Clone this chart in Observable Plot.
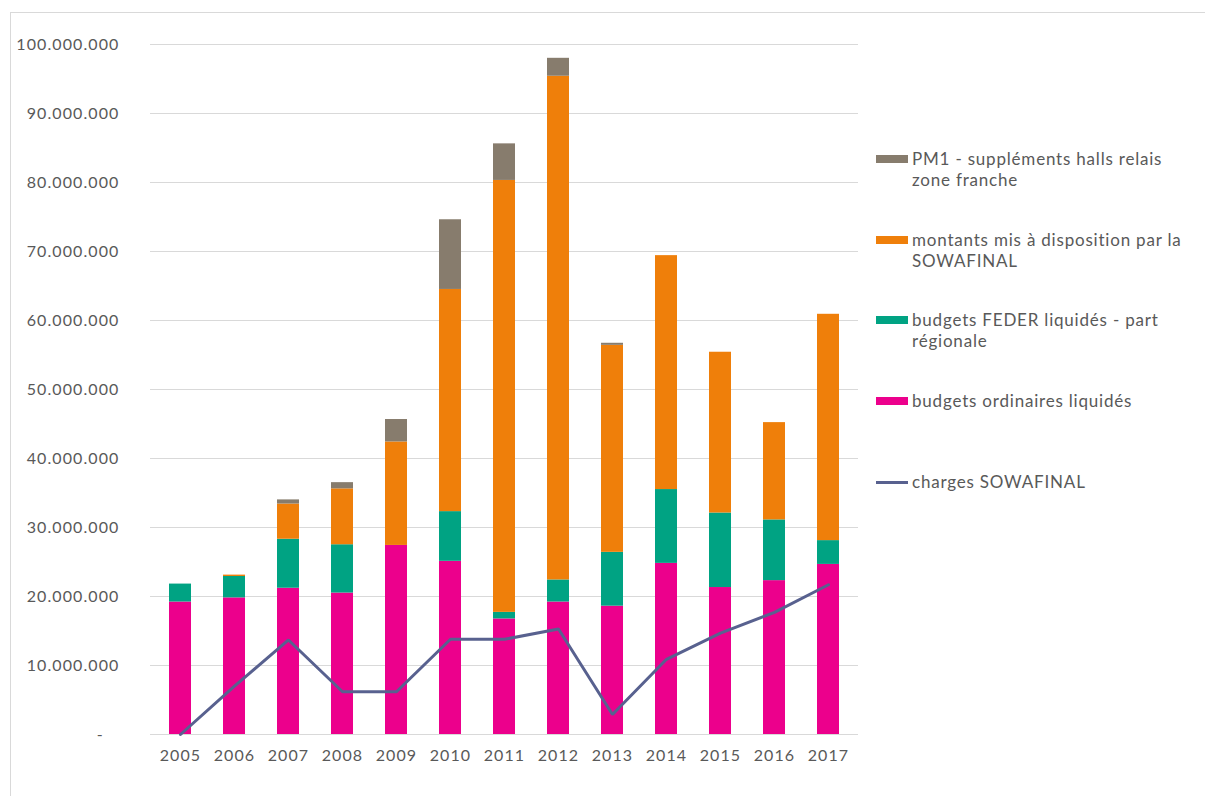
<!DOCTYPE html>
<html>
<head>
<meta charset="utf-8">
<script src="https://cdn.jsdelivr.net/npm/d3@7"></script>
<script src="https://cdn.jsdelivr.net/npm/@observablehq/plot@0.6"></script>
<style>
  html, body { margin: 0; padding: 0; background: #fff; }
  #fig { position: relative; width: 1205px; height: 796px; overflow: hidden; font-family: Lato, "Open Sans", sans-serif; }
  #frame { position: absolute; left: 10px; top: 12px; width: 1210px; height: 800px; border: 1px solid #d9d9d9; box-sizing: border-box; }
  #chart { position: absolute; left: 0; top: 0; }
  #chart svg text { letter-spacing: 1.1px; }
  #legend { position: absolute; left: 876px; top: 0; width: 330px; color: #595959; font-size: 17px; line-height: 21px; letter-spacing: 0.8px; }
  .item { position: absolute; left: 0; display: flex; align-items: flex-start; }
  .sw { width: 32px; height: 8px; margin-top: 7px; margin-right: 4px; flex: none; }
  .sw.line { height: 3px; margin-top: 10px; }
  .lab { width: 280px; }
</style>
</head>
<body>
<div id="fig">
  <div id="frame"></div>
  <div id="chart"></div>
  <div id="legend"></div>
</div>
<script>
const years = ["2005","2006","2007","2008","2009","2010","2011","2012","2013","2014","2015","2016","2017"];
const seriesNames = [
  "budgets ordinaires liquidés",
  "budgets FEDER liquidés - part régionale",
  "montants mis à disposition par la SOWAFINAL",
  "PM1 - suppléments halls relais zone franche"
];
const seriesColors = ["#EC008C", "#00A383", "#EF7F0A", "#877C6D"];
// values in millions
const ordinaires = [19.2, 19.8, 21.2, 20.5, 27.4, 25.1, 16.75, 19.2, 18.6, 24.8, 21.3, 22.3, 24.65];
const feder      = [2.6, 3.1, 7.1, 7.0, 0, 7.2, 0.95, 3.2, 7.8, 10.7, 10.8, 8.8, 3.45];
const montants   = [0, 0.2, 5.1, 8.1, 15.0, 32.2, 62.6, 73.0, 30.0, 33.9, 23.3, 14.1, 32.8];
const pm1        = [0, 0, 0.6, 0.9, 3.25, 10.1, 5.3, 2.6, 0.3, 0, 0, 0, 0];
const chargesName = "charges SOWAFINAL";
const chargesColor = "#58618F";
const charges    = [0, 7.0, 13.7, 6.2, 6.2, 13.8, 13.8, 15.3, 2.9, 10.9, 14.7, 17.7, 21.7];
const yTicks = [0, 10e6, 20e6, 30e6, 40e6, 50e6, 60e6, 70e6, 80e6, 90e6, 100e6];

const seriesValues = [ordinaires, feder, montants, pm1];
const barData = [];
years.forEach((yr, i) => {
  seriesNames.forEach((name, k) => {
    barData.push({year: yr, series: name, value: seriesValues[k][i] * 1e6});
  });
});
const lineData = years.map((yr, i) => ({year: yr, value: charges[i] * 1e6}));

const locale = d3.formatLocale({decimal: ",", thousands: ".", grouping: [3], currency: ["", "€"]});
const fmt = locale.format(",");
const tickFmt = v => v === 0 ? "-\u00a0\u00a0\u00a0" : fmt(v);

const chart = Plot.plot({
  width: 1205,
  height: 796,
  marginLeft: 150,
  marginRight: 347,
  marginTop: 44,
  marginBottom: 62,
  style: {fontFamily: "Lato, 'Open Sans', sans-serif", fontSize: "16px", color: "#595959", background: "transparent", overflow: "visible"},
  x: {type: "band", domain: years, paddingInner: 0.6, paddingOuter: 0.3, label: null, tickSize: 0, tickPadding: 15},
  y: {domain: [0, 100e6], ticks: yTicks, tickFormat: tickFmt, label: null, tickSize: 0, tickPadding: 31},
  color: {domain: seriesNames, range: seriesColors},
  marks: [
    Plot.gridY(yTicks, {stroke: "#d9d9d9", strokeOpacity: 1, strokeWidth: 1.2}),
    Plot.barY(barData, {x: "year", y: "value", fill: "series", order: seriesNames}),
    Plot.lineY(lineData, {x: "year", y: "value", stroke: chargesColor, strokeWidth: 3, strokeLinejoin: "miter"})
  ]
});
document.getElementById("chart").appendChild(chart);

// legend (top to bottom: reversed stack order, then line)
const legend = document.getElementById("legend");
const tops = [148, 229, 309, 390, 471];
const items = [...seriesNames.map((n, k) => ({name: n, color: seriesColors[k], line: false})).reverse(),
               {name: chargesName, color: chargesColor, line: true}];
items.forEach((it, j) => {
  const d = document.createElement("div");
  d.className = "item";
  d.style.top = tops[j] + "px";
  const sw = document.createElement("div");
  sw.className = "sw" + (it.line ? " line" : "");
  sw.style.background = it.color;
  const lab = document.createElement("div");
  lab.className = "lab";
  lab.textContent = it.name;
  d.appendChild(sw); d.appendChild(lab);
  legend.appendChild(d);
});
</script>
</body>
</html>
